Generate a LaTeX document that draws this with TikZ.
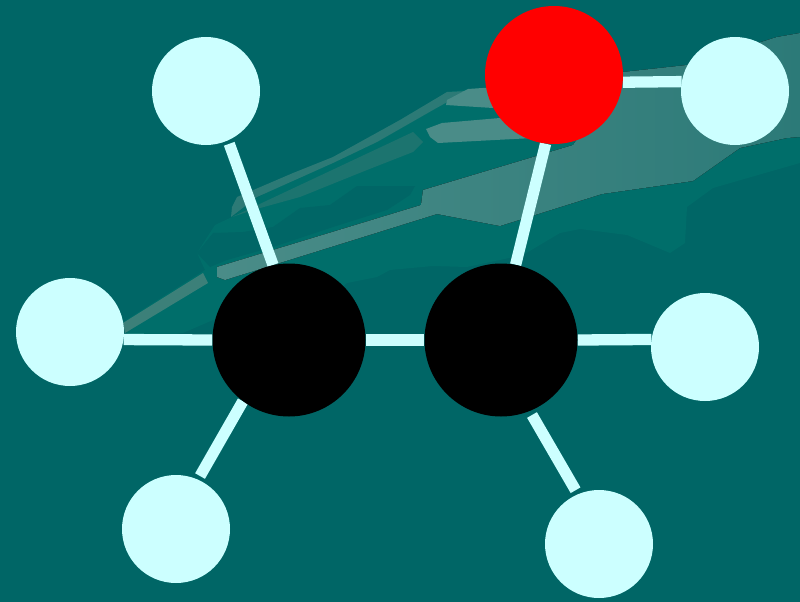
\documentclass[tikz,border=0pt]{standalone}
\usetikzlibrary{positioning,backgrounds}
\definecolor{seabase}{HTML}{006666}
\definecolor{sealight}{HTML}{006E6A}
\definecolor{atomH}{HTML}{CCFFFF}
\definecolor{glintA}{HTML}{2C7A76}
\definecolor{glintB}{HTML}{1C746F}
\definecolor{glintC}{HTML}{3C8079}
\definecolor{glintD}{HTML}{4A8C88}
\definecolor{glintE}{HTML}{2C7A78}

\begin{document}
\begin{tikzpicture}[x=1pt, y=-1pt]
    \begin{scope}[on grid,
        hydrogen/.style={circle, inner sep=0pt, minimum size=108pt, fill=atomH},
        carbon/.style={circle, inner sep=0pt, minimum size=153pt, fill=black},
        oxygen/.style={circle, inner sep=0pt, minimum size=138pt, fill=red},
        bond/.style={line width=11.3pt, draw=atomH}]
    \useasboundingbox (0,0) rectangle (800,602);
    % backdrop
    \begin{pgfonlayer}{background}
    \fill[seabase] (0,0) rectangle (800,602);
    \fill[sealight] (123,322) -- (205,270) -- (197,253) -- (215,225) -- (232,217) -- (253,200)
        -- (333,157) -- (400,120) -- (447,92) -- (470,89) -- (497,87) -- (623,72) -- (687,65)
        -- (777,37) -- (800,33) -- (800,163) -- (713,188) -- (687,207) -- (685,243) -- (670,253)
        -- (627,235) -- (580,229) -- (560,233) -- (523,255) -- (467,267) -- (433,266) -- (390,270)
        -- (377,277) -- (347,283) -- (300,320) -- (213,320) -- (183,333) -- (130,340) -- cycle;
    \fill[seabase] (197,253) -- (213,233) -- (243,232) -- (273,227) -- (300,208) -- (330,205)
        -- (357,186) -- (415,186) -- (410,195) -- (387,210) -- (333,227) -- (273,247)
        -- (227,260) -- (210,267) -- cycle;
    % streaks
    \fill[glintA] (231,217) -- (232,207) -- (237,197) -- (293,173) -- (333,157)
        -- (400,120) -- (447,92) -- (467,91) -- (433,110) -- (377,142) -- (333,163) -- (257,197) -- cycle;
    \fill[glintB] (232,217) -- (413,132) -- (423,142) -- (413,152) -- (367,170)
        -- (300,197) -- (253,210) -- cycle;
    \fill[glintC] (123,323) -- (203,273) -- (208,283) -- (125,333) -- cycle;
    \fill[left color=glintD, right color=glintE]
        (217,267) -- (421,205) -- (423,190) -- (573,145) -- (623,72) -- (687,65) -- (777,37)
        -- (800,33) -- (800,137) -- (787,138) -- (740,148) -- (693,181) -- (602,194)
        -- (500,226) -- (437,214) -- (225,280) -- (217,277) -- cycle;
    \fill[glintD] (447,100) -- (468,89) -- (497,87) -- (493,108) -- (446,105) -- cycle;
    \fill[glintD] (426,129) -- (442,123) -- (500,118) -- (533,138) -- (438,143) -- (430,137) -- cycle;
    \end{pgfonlayer}
    % atoms
    \node [carbon] (carbonA) at (289,340) {};
    \node [carbon] (carbonB) [right=212pt of carbonA] {};
    \node [oxygen] (oxy) [above right=265pt and 53pt of carbonB] {};
    % left branch
    \node [hydrogen] (hydroA) [above left=249pt and 83pt of carbonA] {};
    \node [hydrogen] (hydroB) [above left=8pt and 219pt of carbonA] {};
    \node [hydrogen] (hydroC) [below left=189pt and 113pt of carbonA] {};
    % right branch
    \node [hydrogen] (hydroD) [below right=16pt and 181pt of oxy] {};
    \node [hydrogen] (hydroE) [below right=7pt and 204pt of carbonB] {};
    \node [hydrogen] (hydroF) [below right=204pt and 98pt of carbonB] {};
    % bonds
    \begin{pgfonlayer}{background}
    \draw [bond] (carbonA.east) -- (carbonB.west);
    \draw [bond, shorten <=3.5pt] (hydroA.-66) -- (carbonA.102);
    \draw [bond] (hydroB.-8.5) -- (carbonA.west);
    \draw [bond, shorten <=4pt] (hydroC.66) -- (carbonA.233);
    \draw [bond] (oxy.263) -- (carbonB.79);
    \draw [bond] (oxy.-6) -- (hydroD.170);
    \draw [bond] (carbonB.east) -- (hydroE.172.5);
    \draw [bond, shorten <=4.5pt, shorten >=4.5pt] (carbonB.-68.5) -- (hydroF.113);
    \end{pgfonlayer}
    \end{scope}
\end{tikzpicture}
\end{document}
